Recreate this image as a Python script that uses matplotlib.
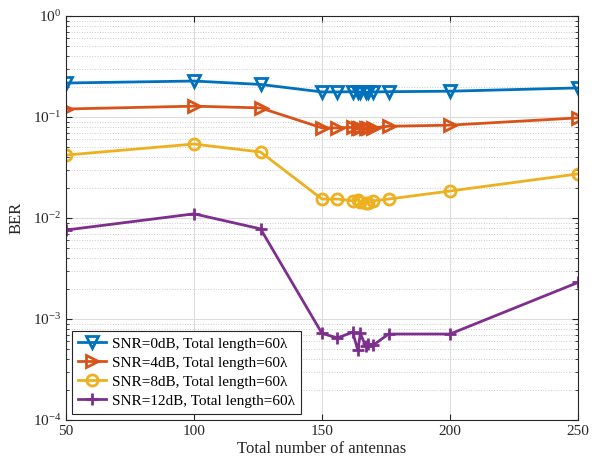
import numpy as np
import matplotlib
matplotlib.use("Agg")
import matplotlib.pyplot as plt
from matplotlib.ticker import LogLocator, NullFormatter

plt.rcParams['font.family'] = ['Liberation Serif', 'DejaVu Serif']
plt.rcParams['mathtext.fontset'] = 'stix'

antennas = [50, 100, 126, 150, 156, 162, 164, 165, 167, 168, 170, 176, 200, 250]
ber_0db = [0.217, 0.227, 0.21, 0.177, 0.177, 0.178, 0.176, 0.177, 0.175, 0.176, 0.177, 0.178, 0.18, 0.194]
ber_4db = [0.12, 0.128, 0.123, 0.078, 0.078, 0.079, 0.077, 0.078, 0.077, 0.078, 0.078, 0.081, 0.083, 0.098]
ber_8db = [0.042, 0.054, 0.045, 0.0154, 0.0154, 0.0148, 0.0152, 0.0143, 0.014, 0.0142, 0.0148, 0.0154, 0.0185, 0.0273]
ber_12db = [0.0076, 0.011, 0.0078, 0.00072, 0.00065, 0.00074, 0.00049, 0.00072, 0.00054, 0.00056, 0.00055, 0.00071, 0.00071, 0.0023]

labels = ["SNR=0dB, Total length=60λ",
          "SNR=4dB, Total length=60λ",
          "SNR=8dB, Total length=60λ",
          "SNR=12dB, Total length=60λ"]

colors = ["#0072BD", "#D95319", "#EDB120", "#7E2F8E"]
markers = ["v", ">", "o", "+"]

fig = plt.figure(figsize=(6.03, 4.62), dpi=100)
ax = fig.add_axes([0.1095, 0.0909, 0.849, 0.8745])

for ber, c, m, lab in zip([ber_0db, ber_4db, ber_8db, ber_12db], colors, markers, labels):
    ax.semilogy(antennas, ber, color=c, marker=m, markersize=8, markerfacecolor="none",
                markeredgewidth=2, linewidth=2, label=lab)

ax.set_xlim(50, 250)
ax.set_ylim(1e-4, 1)
ax.set_xticks([50, 100, 150, 200, 250])
ax.yaxis.set_major_locator(LogLocator(base=10, numticks=10))
ax.yaxis.set_minor_locator(LogLocator(base=10, subs=np.arange(2, 10), numticks=20))
ax.yaxis.set_minor_formatter(NullFormatter())

ax.grid(True, which="major", color="#dcdcdc", linewidth=0.8)
ax.grid(True, which="minor", axis="y", color="#cccccc", linestyle=":", linewidth=0.7)
ax.tick_params(which="both", direction="in", top=True, right=True, labelsize=11, colors="#262626")
ax.tick_params(which="major", length=4)
ax.tick_params(which="minor", length=2)
for sp in ax.spines.values():
    sp.set_color("#262626")
    sp.set_linewidth(0.8)

ax.set_xlabel("Total number of antennas", fontsize=12, color="#262626", labelpad=2)
ax.set_ylabel("BER", fontsize=12, color="#262626", labelpad=6)

leg = ax.legend(loc="lower left", fontsize=11, fancybox=False, framealpha=1,
                edgecolor="#262626", handlelength=1.8, handletextpad=0.4, borderpad=0.4,
                labelspacing=0.35, borderaxespad=0.4)
leg.get_frame().set_linewidth(0.8)

fig.savefig("out.png", dpi=100)
